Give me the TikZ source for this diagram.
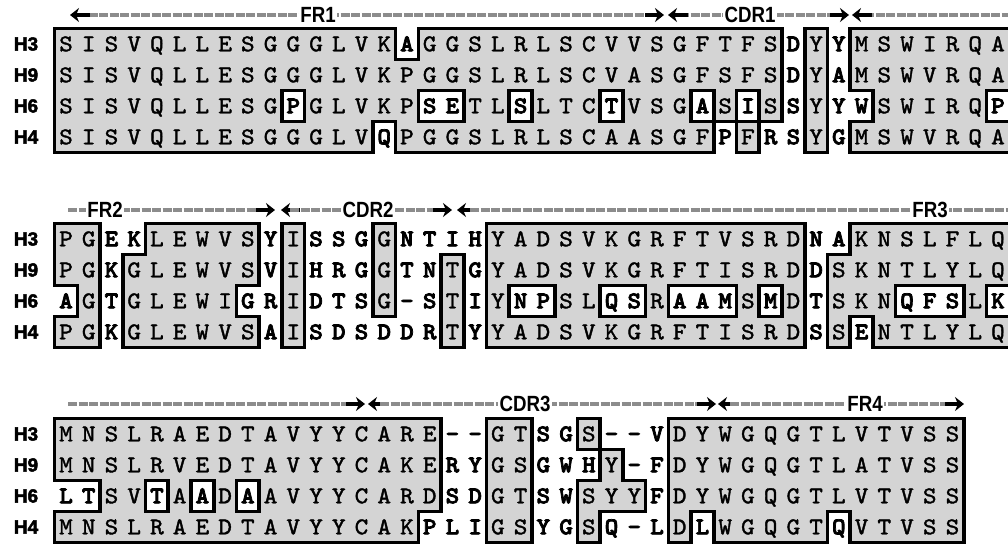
\documentclass[tikz,border=0pt]{standalone}
\usepackage{fontspec}
\usepackage{graphicx}
\usetikzlibrary{arrows.meta}
\newfontfamily\seqreg{lmmono10-regular.otf}[FakeBold=1.6,FakeStretch=1.08]
\newfontfamily\seqbold{lmmonolt10-bold.otf}[FakeBold=3,FakeStretch=1.08]
\newfontfamily\labfont{Liberation Sans}
\newfontfamily\rowfont{Liberation Sans Bold}[FakeBold=2.5]
\definecolor{boxgray}{RGB}{212,212,212}
\definecolor{dashgray}{RGB}{140,140,140}
\newcount\ci
\def\gch{g}
\def\parse#1#2#3#4{\global\ci=0 \def\pp{#1}\def\pb{#2}\def\pr{#3}\parseA#4\relax}
\def\parseA#1{\ifx#1\relax\else\global\advance\ci by 1 \expandafter\xdef\csname\pp\pb-\pr-\the\ci\endcsname{#1}\expandafter\parseA\fi}
% block 1
\parse{s}{1}{1}{SISVQLLESGGGLVKAGGSLRLSCVVSGFTFSDYYMSWIRQA}
\parse{s}{1}{2}{SISVQLLESGGGLVKPGGSLRLSCVASGFSFSDYAMSWVRQA}
\parse{s}{1}{3}{SISVQLLESGPGLVKPSETLSLTCTVSGASISSYYWSWIRQP}
\parse{s}{1}{4}{SISVQLLESGGGLVQPGGSLRLSCAASGFPFRSYGMSWVRQA}
\parse{m}{1}{1}{ggggggggggggggg.gggggggggggggggg.g.ggggggg}
\parse{m}{1}{2}{gggggggggggggggggggggggggggggggg.g.ggggggg}
\parse{m}{1}{3}{gggggggggg.ggggg..gg.ggg.ggg.g.g.g..ggggg.}
\parse{m}{1}{4}{gggggggggggggg.gggggggggggggg.g..g.ggggggg}
% block 2
\parse{s}{2}{1}{PGEKLEWVSYISSGGNTIHYADSVKGRFTVSRDNAKNSLFLQ}
\parse{s}{2}{2}{PGKGLEWVSVIHRGGTNTGYADSVKGRFTISRDDSKNTLYLQ}
\parse{s}{2}{3}{AGTGLEWIGRIDTSG-STIYNPSLQSRAAMSMDTSKNQFSLK}
\parse{s}{2}{4}{PGKGLEWVSAISDSDDRTYYADSVKGRFTISRDSSENTLYLQ}
\parse{m}{2}{1}{gg..ggggg.g...g....gggggggggggggg..ggggggg}
\parse{m}{2}{2}{gg.gggggg.g...g..g.gggggggggggggg.gggggggg}
\parse{m}{2}{3}{.g.ggggg..g...g..g.g..gg..g...g.g.ggg...g.}
\parse{m}{2}{4}{gg.gggggg.g......g.gggggggggggggg.g.gggggg}
% block 3
\parse{s}{3}{1}{MNSLRAEDTAVYYCARE--GTSGS--VDYWGQGTLVTVSS}
\parse{s}{3}{2}{MNSLRVEDTAVYYCAKERYGSGWHY-FDYWGQGTLATVSS}
\parse{s}{3}{3}{LTSVTAADAAVYYCARDSDGTSWSYYFDYWGQGTLVTVSS}
\parse{s}{3}{4}{MNSLRAEDTAVYYCAKPLIGSYGSQ-LDLWGQGTQVTVSS}
\parse{m}{3}{1}{ggggggggggggggggg..gg..g...ggggggggggggg}
\parse{m}{3}{2}{ggggggggggggggggg..gg...g..ggggggggggggg}
\parse{m}{3}{3}{..gg.g.g.gggggggg..gg..ggg.ggggggggggggg}
\parse{m}{3}{4}{gggggggggggggggg...gg..g...g.ggggg.ggggg}
\begin{document}
\begin{tikzpicture}[x=1pt,y=-1pt,
  edge/.style={line width=3.6pt,line cap=rect},
  lreg/.style={inner sep=0pt,text height=14.5pt,text depth=0pt,font=\seqreg\fontsize{24}{24}\selectfont},
  lbold/.style={inner sep=0pt,text height=14.5pt,text depth=0pt,font=\seqbold\fontsize{24}{24}\selectfont},
  rowlab/.style={inner sep=0pt,font=\rowfont\fontsize{19}{19}\selectfont},
  hdash/.style={draw=dashgray,line width=3.2pt,dash pattern=on 9pt off 1.5pt},
  harrow/.style={line width=3.2pt,-{Stealth[length=9pt,width=14pt]}},
  hlab/.style={fill=white,inner xsep=1.5pt,inner ysep=0pt,font=\labfont\bfseries\fontsize{22}{22}\selectfont}
]
\useasboundingbox (0,0) rectangle (1008,550);
% gray fills
\foreach \b/\n/\yy in {1/42/44,2/42/239,3/40/434}{
 \foreach \r in {1,...,4}{
  \foreach \c in {1,...,\n}{
   \pgfmathsetmacro\cx{66+(\c-1)*22.73}
   \pgfmathsetmacro\cy{\yy+(\r-1)*31}
   \expandafter\ifx\csname m\b-\r-\c\endcsname\gch
     \fill[boxgray] (\cx-11.4,\cy-15.55) rectangle (\cx+11.4,\cy+15.55);
   \fi
 }}}
% letters and outlines
\foreach \b/\n/\yy in {1/42/44,2/42/239,3/40/434}{
 \foreach \r in {1,...,4}{
  \foreach \c in {1,...,\n}{
   \pgfmathsetmacro\cx{66+(\c-1)*22.73}
   \pgfmathsetmacro\cy{\yy+(\r-1)*31}
   \expandafter\ifx\csname m\b-\r-\c\endcsname\gch
     \node[lreg] (c\b r\r c\c) at (\cx,\cy) {\csname s\b-\r-\c\endcsname};
     \expandafter\ifx\csname m\b-\r-\the\numexpr\c-1\relax\endcsname\gch\else
       \draw[edge] (\cx-11.365,\cy-15.5) -- (\cx-11.365,\cy+15.5);\fi
     \expandafter\ifx\csname m\b-\r-\the\numexpr\c+1\relax\endcsname\gch\else
       \draw[edge] (\cx+11.365,\cy-15.5) -- (\cx+11.365,\cy+15.5);\fi
     \expandafter\ifx\csname m\b-\the\numexpr\r-1\relax-\c\endcsname\gch\else
       \draw[edge] (\cx-11.365,\cy-15.5) -- (\cx+11.365,\cy-15.5);\fi
     \expandafter\ifx\csname m\b-\the\numexpr\r+1\relax-\c\endcsname\gch\else
       \draw[edge] (\cx-11.365,\cy+15.5) -- (\cx+11.365,\cy+15.5);\fi
   \else
     \node[lbold] (c\b r\r c\c) at (\cx,\cy) {\csname s\b-\r-\c\endcsname};
   \fi
 }}}
% row labels
\foreach \b/\yy in {1/44,2/239,3/434}{
 \foreach \r/\t in {1/H3,2/H9,3/H6,4/H4}{
  \node[rowlab] (h\b\r) at (26,\yy+\r*31-31) {\t};
 }}
% header block 1
\draw[hdash] (78,15) -- (660,15);
\node[hlab] (fr1) at (318,15) {\scalebox{0.85}[1]{FR1}};
\draw[harrow] (90,15) -- (70,15);
\draw[harrow] (645,15) -- (664,15);
\draw[hdash] (680,15) -- (840,15);
\node[hlab] (cdr1) at (750,15) {\scalebox{0.85}[1]{CDR1}};
\draw[harrow] (688,15) -- (668,15);
\draw[harrow] (830,15) -- (849,15);
\draw[hdash] (865,15) -- (1008,15);
\draw[harrow] (872,15) -- (852,15);
% header block 2
\draw[hdash] (68,210) -- (268,210);
\node[hlab] (fr2) at (105,210) {\scalebox{0.85}[1]{FR2}};
\draw[harrow] (256,210) -- (275,210);
\draw[harrow] (300,210) -- (281,210);
\draw[hdash] (290,210) -- (445,210);
\node[hlab] (cdr2) at (368,210) {\scalebox{0.85}[1]{CDR2}};
\draw[harrow] (433,210) -- (452,210);
\draw[harrow] (476,210) -- (457,210);
\draw[hdash] (470,210) -- (1008,210);
\node[hlab] (fr3) at (930,210) {\scalebox{0.85}[1]{FR3}};
% header block 3
\draw[hdash] (68,404) -- (360,404);
\draw[harrow] (346,404) -- (365,404);
\draw[harrow] (387,404) -- (368,404);
\draw[hdash] (380,404) -- (712,404);
\node[hlab] (cdr3) at (525,404) {\scalebox{0.85}[1]{CDR3}};
\draw[harrow] (697,404) -- (716,404);
\draw[harrow] (737,404) -- (718,404);
\draw[hdash] (730,404) -- (955,404);
\node[hlab] (fr4) at (865,404) {\scalebox{0.85}[1]{FR4}};
\draw[harrow] (945,404) -- (964,404);
\end{tikzpicture}
\end{document}
